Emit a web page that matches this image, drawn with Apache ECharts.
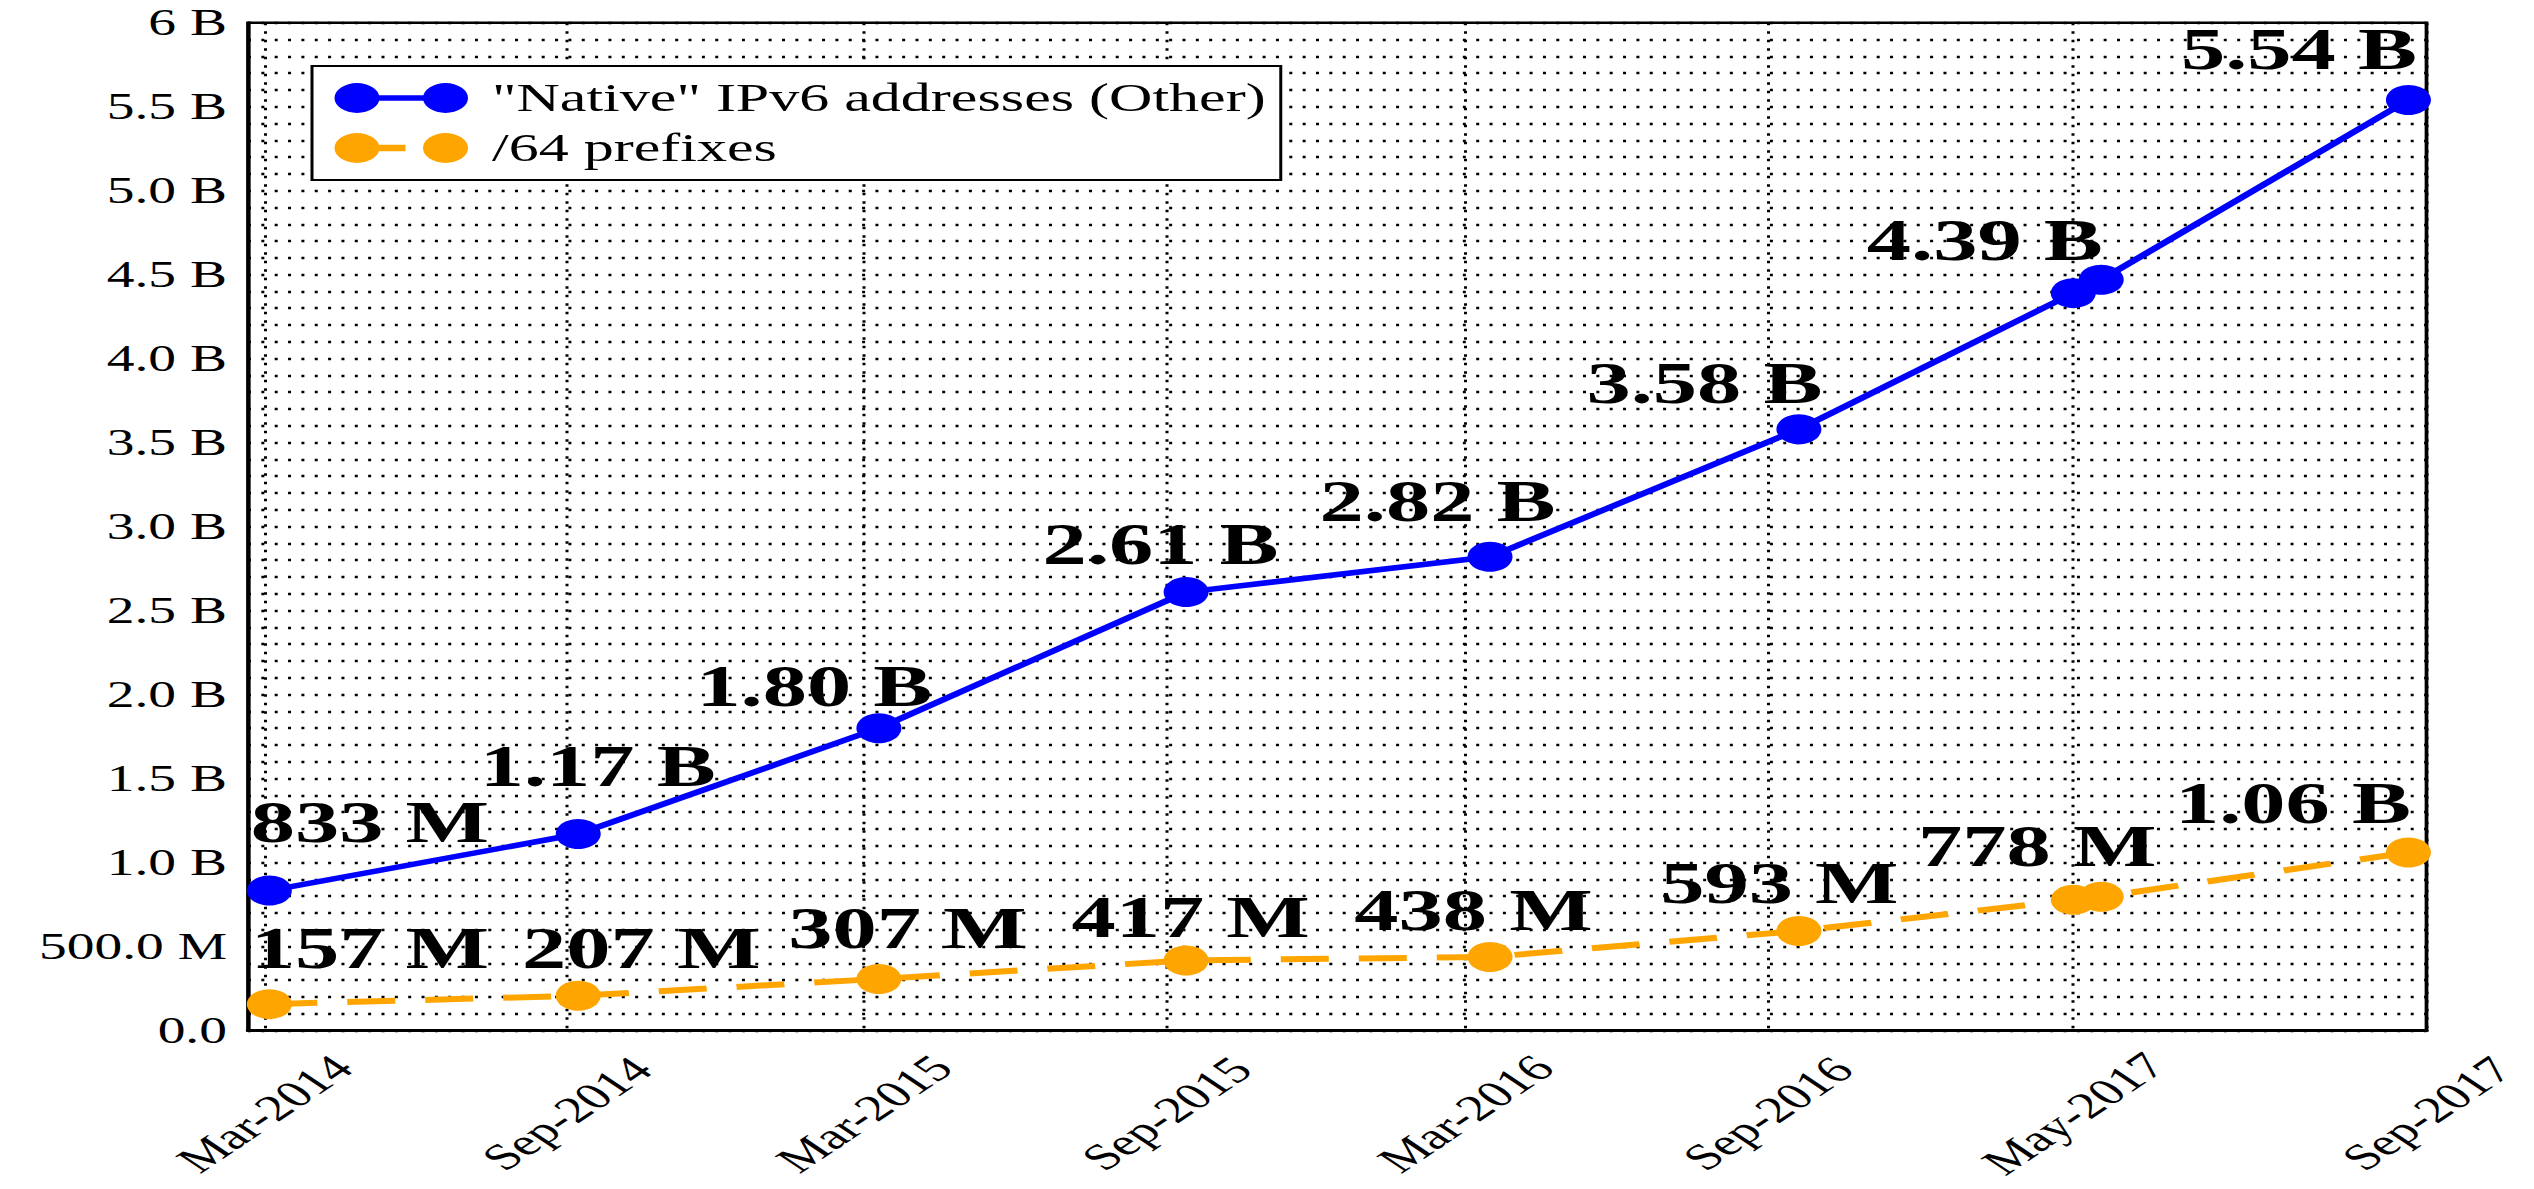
<!DOCTYPE html>
<html>
<head>
<meta charset="utf-8">
<title>"Native" IPv6 addresses and /64 prefixes</title>
<script src="https://cdn.jsdelivr.net/npm/echarts@6/dist/echarts.min.js"></script>
<style>
  html, body { margin: 0; padding: 0; background: #fff; overflow: hidden; }
  /* the reference is stretched 1.5x horizontally, so draw narrow and stretch */
  #chart { position: absolute; left: 0; top: 0; width: 1689.33px; height: 1189px;
           transform: scaleX(1.5); transform-origin: 0 0; }
</style>
</head>
<body>
<div id="chart"></div>
<script>
// measurement dates and values
const dates = ['2014-03-04', '2014-09-08', '2015-03-10', '2015-09-13', '2016-03-16',
               '2016-09-20', '2017-03-06', '2017-03-23', '2017-09-26'];
const nativeAddrs = [833e6, 1.17e9, 1.80e9, 2.61e9, 2.82e9, 3.58e9, 4.39e9, 4.47e9, 5.54e9];
const prefixes64 = [157e6, 207e6, 307e6, 417e6, 438e6, 593e6, 778e6, 796e6, 1.06e9];
const labelled = [true, true, true, true, true, true, true, false, true];

const seriesNames = ['"Native" IPv6 addresses (Other)', '/64 prefixes'];

// x ticks (the last one sits on the right frame)
const tickDates = ['2014-03-01', '2014-09-01', '2015-03-01', '2015-09-01', '2016-03-01',
                   '2016-09-01', '2017-03-06', '2017-10-07'];
const tickLabels = ['Mar-2014', 'Sep-2014', 'Mar-2015', 'Sep-2015', 'Mar-2016',
                    'Sep-2016', 'May-2017', 'Sep-2017'];
const yTickLabels = ['0.0', '500.0 M', '1.0 B', '1.5 B', '2.0 B', '2.5 B', '3.0 B',
                     '3.5 B', '4.0 B', '4.5 B', '5.0 B', '5.5 B', '6 B'];

// where each value label sits relative to its point (px, before stretch)
const nativeLabelShift = [[67, -69], [13, -68], [-43, -42], [-17, -48], [-35, -56],
                          [-63, -46], [-59, -53], null, [-73, -51]];
const prefixLabelShift = [[67, -56], [42, -48], [19, -51], [3, -43], [-11, -47],
                          [-13, -48], [-24, -54], null, [-77, -49]];

const SERIF = 'Liberation Serif, Times New Roman, Times, serif';
const BLUE = '#0000ff';
const ORANGE = '#ffa500';
const DAY = 86400000;

// days since 2014-03-01, used as the x value
function dayNum(s) {
  const p = s.split('-').map(Number);
  return Math.round((Date.UTC(p[0], p[1] - 1, p[2]) - Date.UTC(2014, 2, 1)) / DAY);
}
function fmtVal(v) {
  return v >= 1e9 ? (v / 1e9).toFixed(2) + ' B' : Math.round(v / 1e6) + ' M';
}
function buildData(values, shifts) {
  return values.map((v, i) => ({
    value: [dayNum(dates[i]), v],
    label: labelled[i] ? { show: true, offset: shifts[i] } : { show: false }
  }));
}

const tickDays = tickDates.map(dayNum);

const dotH = { color: '#000', width: 2.3, type: [2, 6.9] };
const dotV = { color: '#000', width: 2, type: [2.5, 6] };

const labelStyle = {
  show: true,
  position: 'inside',
  align: 'center',
  verticalAlign: 'middle',
  color: '#000',
  textBorderWidth: 0,
  fontFamily: SERIF,
  fontWeight: 'bold',
  fontSize: 59,
  formatter: p => fmtVal(p.value[1])
};

const blueIcon = 'path://M0,15A15,15 0 1,1 30,15A15,15 0 1,1 0,15Z' +
  'M15,12.2L74,12.2L74,17.8L15,17.8Z' +
  'M59,15A15,15 0 1,1 89,15A15,15 0 1,1 59,15Z';
const orangeIcon = 'path://M0,15A15,15 0 1,1 30,15A15,15 0 1,1 0,15Z' +
  'M15,11.7L47.3,11.7L47.3,18.3L15,18.3Z' +
  'M59,15A15,15 0 1,1 89,15A15,15 0 1,1 59,15Z';

const chart = echarts.init(document.getElementById('chart'), null, { renderer: 'svg' });

const option = {
  animation: false,
  backgroundColor: '#fff',
  textStyle: { fontFamily: SERIF },
  grid: {
    left: 165.33, right: 71.33, top: 22.7, bottom: 158.5,
    show: true, borderColor: '#000', borderWidth: 2.5, backgroundColor: '#fff',
    containLabel: false, outerBoundsMode: 'none'
  },
  legend: {
    orient: 'vertical',
    left: 208, top: 66,
    padding: [12, 10, 12, 15],
    itemGap: 10,
    itemWidth: 89, itemHeight: 30,
    backgroundColor: '#fff',
    borderColor: '#000', borderWidth: 2, borderRadius: 0,
    selectedMode: false,
    itemStyle: { borderWidth: 0 },
    textStyle: { fontFamily: SERIF, fontSize: 40, color: '#000', padding: [0, 0, 0, 11] },
    data: [
      { name: seriesNames[0], icon: blueIcon },
      { name: seriesNames[1], icon: orangeIcon }
    ]
  },
  xAxis: {
    type: 'value',
    min: dayNum('2014-02-19'),
    max: dayNum('2017-10-07'),
    axisLine: { show: true, onZero: false, lineStyle: { color: '#000', width: 3 } },
    axisTick: { show: false, customValues: tickDays },
    axisLabel: {
      customValues: tickDays,
      formatter: v => {
        const i = tickDays.indexOf(Math.round(v));
        return i >= 0 ? tickLabels[i] : '';
      },
      rotate: 45,
      align: 'center',
      verticalAlign: 'middle',
      margin: 83,
      fontFamily: SERIF,
      fontSize: 37,
      color: '#000'
    },
    splitLine: { show: true, lineStyle: dotV }
  },
  yAxis: {
    type: 'value',
    min: 0, max: 6e9, interval: 5e8,
    axisLine: { show: true, onZero: false, lineStyle: { color: '#000', width: 2.2 } },
    axisTick: { show: false },
    axisLabel: {
      formatter: v => yTickLabels[Math.round(v / 5e8)],
      margin: 14,
      fontFamily: SERIF,
      fontSize: 37,
      color: '#000'
    },
    splitLine: { show: true, lineStyle: dotH },
    minorTick: { show: false, splitNumber: 5 },
    minorSplitLine: { show: true, lineStyle: dotH }
  },
  series: [
    {
      name: seriesNames[0],
      type: 'line',
      data: buildData(nativeAddrs, nativeLabelShift),
      symbol: 'circle',
      symbolSize: 30,
      color: BLUE,
      itemStyle: { color: BLUE, borderWidth: 0 },
      lineStyle: { color: BLUE, width: 5.5 },
      label: labelStyle,
      emphasis: { disabled: true },
      z: 3
    },
    {
      name: seriesNames[1],
      type: 'line',
      data: buildData(prefixes64, prefixLabelShift),
      symbol: 'circle',
      symbolSize: 30,
      color: ORANGE,
      itemStyle: { color: ORANGE, borderWidth: 0 },
      lineStyle: { color: ORANGE, width: 6, type: [32, 20] },
      label: labelStyle,
      emphasis: { disabled: true },
      z: 3
    }
  ]
};

chart.setOption(option);
</script>
</body>
</html>
